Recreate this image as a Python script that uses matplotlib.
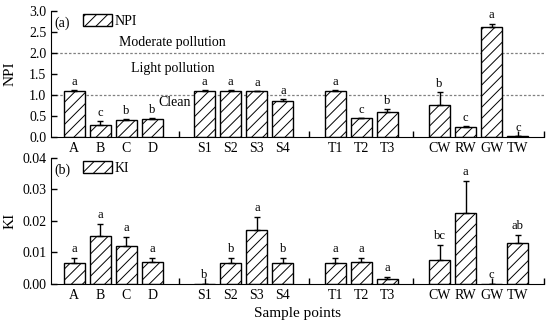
import numpy as np
import matplotlib.pyplot as plt

plt.rcParams['font.family'] = ['Liberation Serif', 'DejaVu Serif']
plt.rcParams['font.size'] = 10
plt.rcParams['hatch.linewidth'] = 0.7

# -------------------------
# DATA
# -------------------------
# x positions: groups separated by one empty slot
sites = ["A", "B", "C", "D", "", "S1", "S2", "S3", "S4", "",
         "T1", "T2", "T3", "", "CW", "RW", "GW", "TW", ""]
bar_sites = ["A", "B", "C", "D", "S1", "S2", "S3", "S4",
             "T1", "T2", "T3", "CW", "RW", "GW", "TW"]

npi = [1.10, 0.29, 0.40, 0.43, 1.10, 1.10, 1.09, 0.86,
       1.10, 0.45, 0.60, 0.75, 0.24, 2.62, 0.02]
npi_err = [0.01, 0.08, 0.02, 0.01, 0.01, 0.01, 0.01, 0.04,
           0.01, 0.01, 0.07, 0.32, 0.03, 0.08, 0.01]
npi_sig = ["a", "c", "b", "b", "a", "a", "a", "a",
           "a", "c", "b", "b", "c", "a", "c"]

ki = [0.0066, 0.0152, 0.0120, 0.0069, 0.0, 0.0066, 0.0171, 0.0068,
      0.0065, 0.0069, 0.0017, 0.0077, 0.0224, 0.0, 0.0130]
ki_err = [0.0017, 0.0038, 0.0030, 0.0013, 0.0, 0.0017, 0.0041, 0.0013,
          0.0018, 0.0013, 0.0006, 0.0047, 0.0102, 0.0, 0.0026]
ki_sig = ["a", "a", "a", "a", "b", "b", "a", "b",
          "a", "a", "a", "bc", "a", "c", "ab"]

x_pos = np.array([sites.index(s) for s in bar_sites])


def draw_panel(ax, vals, errs, sigs, name, tag, ymax, step, fmt, pad):
    ax.bar(x_pos, vals, width=0.8, color="white", edgecolor="black",
           linewidth=1.0, hatch="///", label=name, zorder=2)
    ax.errorbar(x_pos, vals, yerr=[np.zeros(len(vals)), errs], fmt="none",
                ecolor="black", elinewidth=1.0, capsize=2, capthick=1.0,
                zorder=3)
    for x, v, e, s in zip(x_pos, vals, errs, sigs):
        ax.text(x, v + e + pad, s, ha="center", va="bottom", fontsize=9)
    ax.set_xlim(-0.88, 18)
    ax.set_ylim(0, ymax)
    ax.set_yticks(np.arange(0, ymax + step / 2, step))
    ax.yaxis.set_major_formatter(plt.FormatStrFormatter(fmt))
    ax.set_xticks(range(len(sites)))
    ax.set_xticklabels(sites)
    ax.tick_params(direction="in", length=4, width=1.0, labelsize=10)
    ax.spines["top"].set_visible(False)
    ax.spines["right"].set_visible(False)
    ax.set_ylabel(name, fontsize=11, labelpad=2)
    ax.text(0.006, 0.905, tag, transform=ax.transAxes, ha="left",
            va="center", fontsize=10)
    ax.legend(loc="upper left", bbox_to_anchor=(0.065, 0.975), frameon=False,
              borderpad=0, borderaxespad=0, handlelength=2.1,
              handleheight=0.9, handletextpad=0.15, fontsize=10)


fig = plt.figure(figsize=(5.5, 3.23), dpi=100)
ax1 = fig.add_axes([0.093, 0.576, 0.896, 0.39])
ax2 = fig.add_axes([0.093, 0.121, 0.896, 0.39])

draw_panel(ax1, npi, npi_err, npi_sig, "NPI", "(a)", 3.0, 0.5, "%.1f", 0.05)
draw_panel(ax2, ki, ki_err, ki_sig, "KI", "(b)", 0.04, 0.01, "%.2f", 0.001)

# pollution classes
for lvl in [1.0, 2.0]:
    ax1.axhline(lvl, color="gray", linestyle=(0, (2, 1.5)), linewidth=0.9,
                zorder=1)
ax1.text(3.75, 2.25, "Moderate pollution", ha="center", va="center", fontsize=10)
ax1.text(3.8, 1.62, "Light pollution", ha="center", va="center", fontsize=10)
ax1.text(3.85, 0.83, "Clean", ha="center", va="center", fontsize=10)

ax2.set_xlabel("Sample points", fontsize=11, labelpad=4)
ax1.yaxis.set_label_coords(-0.07, 0.5)
ax2.yaxis.set_label_coords(-0.07, 0.5)

fig.savefig("out.png", dpi=100)
